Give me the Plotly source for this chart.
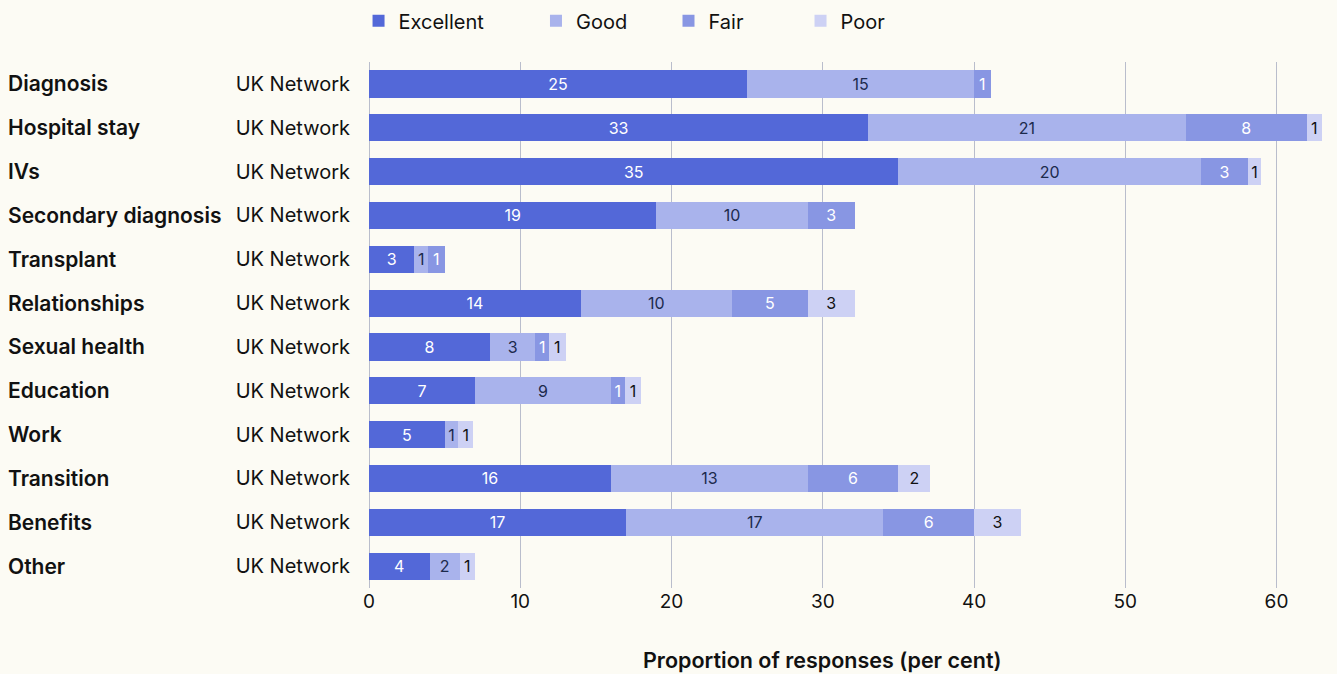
import plotly.graph_objects as go

categories = ["Diagnosis", "Hospital stay", "IVs", "Secondary diagnosis", "Transplant",
              "Relationships", "Sexual health", "Education", "Work", "Transition",
              "Benefits", "Other"]
group_label = "UK Network"
series_names = ["Excellent", "Good", "Fair", "Poor"]
excellent = [25.0, 33.0, 35.0, 19.0, 3.0, 14.0, 8.0, 7.0, 5.0, 16.0, 17.0, 4.0]
good = [15.0, 21.0, 20.0, 10.0, 0.9, 10.0, 3.0, 9.0, 0.9, 13.0, 17.0, 2.0]
fair = [1.1, 8.0, 3.1, 3.1, 1.1, 5.0, 0.9, 0.9, None, 6.0, 6.0, None]
poor = [None, 1.0, 0.9, None, None, 3.1, 1.1, 1.1, 1.0, 2.1, 3.1, 1.0]
x_ticks = [0, 10, 20, 30, 40, 50, 60]

colors = ["#5368d8", "#a9b3ec", "#8896e3", "#cdd1f4"]
text_colors = ["#ffffff", "#1c2a4c", "#ffffff", "#111111"]
legend_ids = ["legend", "legend2", "legend3", "legend4"]
legend_x = [-0.0108, 0.1725, 0.3094, 0.4458]
FONT = "Inter"
BG = "#fcfbf4"

fig = go.Figure()
for name, vals, c, tc, lid in zip(series_names, [excellent, good, fair, poor], colors, text_colors, legend_ids):
    fig.add_trace(go.Bar(
        y=categories, x=vals, name=name, orientation="h", legend=lid,
        marker=dict(color=c, line=dict(width=0)),
        texttemplate="%{x:.0f}", textposition="inside", insidetextanchor="middle",
        textangle=0, textfont=dict(color=tc, size=16, family=FONT),
        constraintext="none",
    ))

for cat in categories:
    fig.add_annotation(xref="paper", x=0, xshift=-363, xanchor="left",
                       yref="y", y=cat, text=cat, showarrow=False,
                       font=dict(family=FONT, size=21, color="#111111", weight=600))

fig.add_annotation(xref="x", x=30, yref="paper", y=0, yshift=-72, yanchor="middle",
                   text="Proportion of responses (per cent)", showarrow=False,
                   font=dict(family=FONT, size=21.5, color="#111111", weight=600))

legend_common = dict(orientation="h", xanchor="left", yref="container", y=0.998, yanchor="top",
                     font=dict(size=20, family=FONT, color="#111111"), bgcolor="rgba(0,0,0,0)")
layout_legends = {lid: dict(x=lx, **legend_common) for lid, lx in zip(legend_ids, legend_x)}

fig.update_layout(
    barmode="stack", bargap=0.38,
    width=1337, height=674,
    paper_bgcolor=BG, plot_bgcolor=BG,
    margin=dict(l=369, r=0, t=62, b=86),
    font=dict(family=FONT, size=18, color="#111111"),
    uniformtext=dict(minsize=16, mode="show"),
    showlegend=True,
    **layout_legends,
)
fig.update_xaxes(range=[0, 64], tickvals=x_ticks, showgrid=True, gridcolor="#b9bdcc",
                 gridwidth=1, zeroline=True, zerolinecolor="#b9bdcc", zerolinewidth=1,
                 tickfont=dict(size=19, family=FONT), showline=False, fixedrange=True)
fig.update_yaxes(autorange="reversed", tickvals=categories,
                 ticktext=[group_label] * len(categories),
                 tickfont=dict(size=20, family=FONT), showgrid=False,
                 ticklabelstandoff=18, showline=False)

fig.write_html("out.html")
